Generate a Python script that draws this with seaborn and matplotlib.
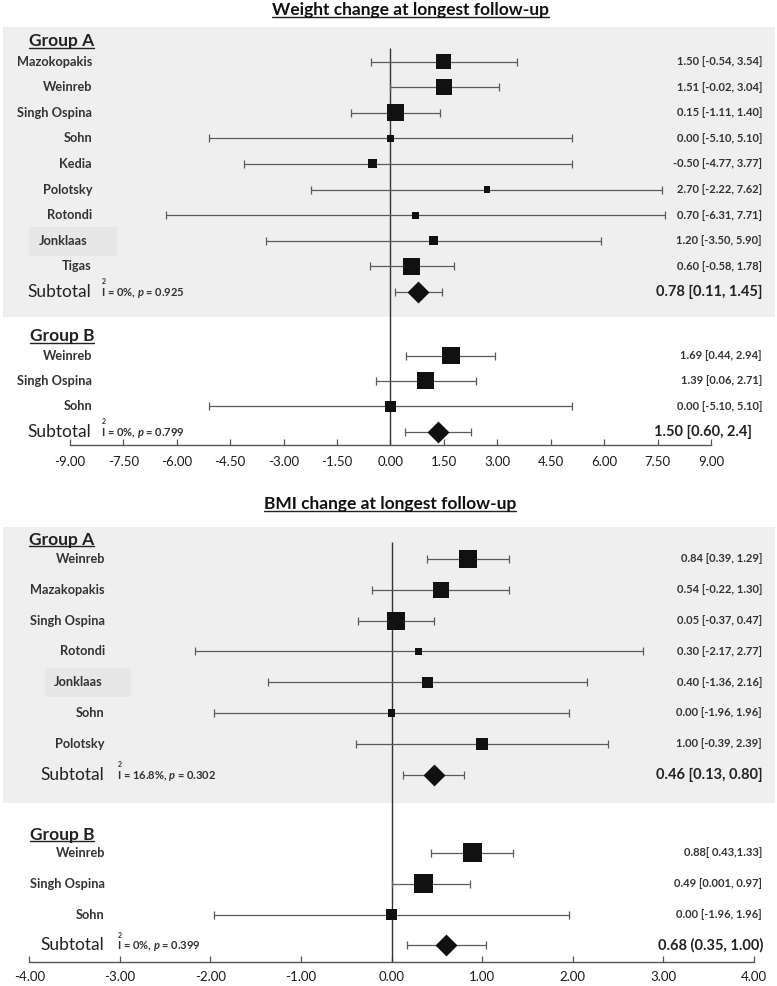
import numpy as np
import pandas as pd
import matplotlib.pyplot as plt
import matplotlib.transforms as mtransforms
from matplotlib.patches import Rectangle
from matplotlib.lines import Line2D
from matplotlib.ticker import FormatStrFormatter
import seaborn as sns

sns.set_theme(style="white")
plt.rcParams['font.family'] = ['Lato', 'DejaVu Sans']
plt.rcParams['mathtext.fontset'] = 'custom'
plt.rcParams['mathtext.rm'] = 'Lato:bold'
plt.rcParams['mathtext.it'] = 'Lato:bold:italic'

# ---------------- weight change (kg) ----------------
wt_a_names = ["Mazokopakis", "Weinreb", "Singh Ospina", "Sohn", "Kedia",
              "Polotsky", "Rotondi", "Jonklaas", "Tigas"]
wt_a_est = [1.50, 1.51, 0.15, 0.00, -0.50, 2.70, 0.70, 1.20, 0.60]
wt_a_lo = [-0.54, -0.02, -1.11, -5.10, -4.10, -2.22, -6.31, -3.50, -0.58]
wt_a_hi = [3.54, 3.04, 1.40, 5.10, 5.10, 7.62, 7.71, 5.90, 1.78]
wt_a_weight = [16.6, 18.9, 21.3, 3.6, 6.0, 2.7, 3.6, 6.0, 21.3]
wt_a_labels = ["1.50 [-0.54, 3.54]", "1.51 [-0.02, 3.04]", "0.15 [-1.11, 1.40]",
               "0.00 [-5.10, 5.10]", "-0.50 [-4.77, 3.77]", "2.70 [-2.22, 7.62]",
               "0.70 [-6.31, 7.71]", "1.20 [-3.50, 5.90]", "0.60 [-0.58, 1.78]"]
wt_a_sub = [0.12, 0.78, 1.44]
wt_a_sub_label = "0.78 [0.11, 1.45]"
wt_a_het = ("0%", "0.925")

wt_b_names = ["Weinreb", "Singh Ospina", "Sohn"]
wt_b_est = [1.69, 0.97, 0.00]
wt_b_lo = [0.44, -0.42, -5.10]
wt_b_hi = [2.94, 2.40, 5.10]
wt_b_weight = [23.9, 21.3, 8.9]
wt_b_labels = ["1.69 [0.44, 2.94]", "1.39 [0.06, 2.71]", "0.00 [-5.10, 5.10]"]
wt_b_sub = [0.40, 1.33, 2.25]
wt_b_sub_label = "1.50 [0.60, 2.4]"
wt_b_het = ("0%", "0.799")

wt_ticks = np.arange(-9, 9.01, 1.5)

# ---------------- BMI change ----------------
bmi_a_names = ["Weinreb", "Mazakopakis", "Singh Ospina", "Rotondi", "Jonklaas",
               "Sohn", "Polotsky"]
bmi_a_est = [0.84, 0.54, 0.05, 0.30, 0.40, 0.00, 1.00]
bmi_a_lo = [0.39, -0.22, -0.37, -2.17, -1.36, -1.96, -0.39]
bmi_a_hi = [1.29, 1.30, 0.47, 2.77, 2.16, 1.96, 2.39]
bmi_a_weight = [25.6, 20.2, 25.6, 3.9, 9.6, 3.9, 11.4]
bmi_a_labels = ["0.84 [0.39, 1.29]", "0.54 [-0.22, 1.30]", "0.05 [-0.37, 0.47]",
                "0.30 [-2.17, 2.77]", "0.40 [-1.36, 2.16]", "0.00 [-1.96, 1.96]",
                "1.00 [-0.39, 2.39]"]
bmi_a_sub = [0.13, 0.47, 0.80]
bmi_a_sub_label = "0.46 [0.13, 0.80]"
bmi_a_het = ("16.8%", "0.302")

bmi_b_names = ["Weinreb", "Singh Ospina", "Sohn"]
bmi_b_est = [0.89, 0.35, 0.00]
bmi_b_lo = [0.43, 0.00, -1.96]
bmi_b_hi = [1.34, 0.86, 1.96]
bmi_b_weight = [28.5, 28.5, 9.6]
bmi_b_labels = ["0.88[ 0.43,1.33]", "0.49 [0.001, 0.97]", "0.00 [-1.96, 1.96]"]
bmi_b_sub = [0.17, 0.60, 1.04]
bmi_b_sub_label = "0.68 (0.35, 1.00)"
bmi_b_het = ("0%", "0.399")

bmi_ticks = np.arange(-4, 4.01, 1.0)

W, H = 777, 986
fig = plt.figure(figsize=(W / 100, H / 100), dpi=100)

TXT = '#333333'
DARK = '#1a1a1a'
BOX = '#efefef'


def make_axes(top_px, axis_px, ticks, left_px, right_px):
    ax = fig.add_axes([0, (H - axis_px) / H, 1, (axis_px - top_px) / H])
    a = (right_px - left_px) / (ticks[-1] - ticks[0])
    ax.set_xlim(ticks[0] - left_px / a, ticks[-1] + (W - right_px) / a)
    ax.set_ylim(axis_px, top_px)
    return ax


def finish_axes(ax, ticks, axis_px, zero_top, pad):
    ax.set_xlim(ax.get_xlim())
    ax.set_ylim(ax.get_ylim())
    ax.patch.set_alpha(0)
    for s in ['left', 'right', 'top']:
        ax.spines[s].set_visible(False)
    ax.spines['bottom'].set_bounds(ticks[0], ticks[-1])
    ax.spines['bottom'].set_color('#555555')
    ax.spines['bottom'].set_linewidth(1.0)
    ax.set_xticks(ticks)
    ax.xaxis.set_major_formatter(FormatStrFormatter('%.2f'))
    ax.tick_params(axis='x', bottom=True, direction='in', length=4, width=0.9,
                   color='#555555', labelsize=9.5, labelcolor=DARK, pad=pad)
    ax.set_yticks([])
    ax.set_xlabel('')
    ax.set_ylabel('')
    ax.vlines(0, zero_top, axis_px, color='#333333', lw=1.0, zorder=1)


def draw_group(ax, names, est, lo, hi, weight, labels, sub, sub_label, het,
               first_px, step, k, name_x, het_x, header, header_px, sub_x=763,
               jonk=None):
    tr = mtransforms.blended_transform_factory(fig.transFigure, ax.transData)
    n = len(names)
    ys = first_px + step * np.arange(n)
    sub_y = first_px + step * n
    est = np.array(est)
    lo = np.array(lo)
    hi = np.array(hi)
    ax.errorbar(est, ys, xerr=[est - lo, hi - est], fmt='none', ecolor='#5a5a5a',
                elinewidth=0.9, capsize=2.8, capthick=0.9, zorder=2)
    df = pd.DataFrame({'est': est, 'y': ys, 'weight': weight})
    sns.scatterplot(data=df, x='est', y='y', size='weight', sizes=(0, k * 100),
                    size_norm=(0, 100), marker='s', color='#111111', linewidth=0,
                    legend=False, ax=ax, zorder=3)
    ax.errorbar([sub[1]], [sub_y], xerr=[[sub[1] - sub[0]], [sub[2] - sub[1]]],
                fmt='none', ecolor='#5a5a5a', elinewidth=0.9, capsize=2.8,
                capthick=0.9, zorder=2)
    sns.scatterplot(x=[sub[1]], y=[sub_y], marker='D', s=125, color='#111111',
                    linewidth=0, legend=False, ax=ax, zorder=3)
    hdr = ax.text(94 / W, header_px, header, transform=tr, ha='right',
                  va='center', fontsize=12.5, fontweight='bold', color='#222222')
    for i, (nm, lab) in enumerate(zip(names, labels)):
        nx = name_x
        if jonk is not None and nm == 'Jonklaas':
            x0, x1, dx = jonk
            ax.add_patch(Rectangle((x0 / W, ys[i] - 14), (x1 - x0) / W, 29,
                                   transform=tr, color='#e7e7e7', lw=0, zorder=0.5))
            nx = name_x - dx
        ax.text(nx / W, ys[i], nm, transform=tr, ha='right', va='center',
                fontsize=9.2, fontweight='bold', color=TXT)
        ax.text(762 / W, ys[i], lab, transform=tr, ha='right', va='center',
                fontsize=8, fontweight='bold', color=TXT)
    ax.text((name_x - 1) / W, sub_y, 'Subtotal', transform=tr, ha='right',
            va='center', fontsize=12.5, color='#222222')
    ax.text(het_x / W, sub_y + 1, f"I = {het[0]}, $p$ = {het[1]}", transform=tr,
            ha='left', va='center', fontsize=8, fontweight='bold', color=TXT)
    ax.text((het_x + 1) / W, sub_y - 10, '2', transform=tr, ha='left',
            va='center', fontsize=5, fontweight='bold', color=TXT)
    ax.text(sub_x / W, sub_y, sub_label, transform=tr, ha='right', va='center',
            fontsize=10.5, fontweight='bold', color='#222222')
    return hdr


# ---------------- top panel ----------------
ax1 = make_axes(0, 445, wt_ticks, 70, 711)
tr1 = mtransforms.blended_transform_factory(fig.transFigure, ax1.transData)
ax1.add_patch(Rectangle((3 / W, 27), 772 / W, 290, transform=tr1, color=BOX,
                        lw=0, zorder=0))
h1 = draw_group(ax1, wt_a_names, wt_a_est, wt_a_lo, wt_a_hi, wt_a_weight,
                wt_a_labels, wt_a_sub, wt_a_sub_label, wt_a_het,
                61.7, 25.56, 7.0, 92, 101, 'Group A', 41, jonk=(29, 117, 4))
h2 = draw_group(ax1, wt_b_names, wt_b_est, wt_b_lo, wt_b_hi, wt_b_weight,
                wt_b_labels, wt_b_sub, wt_b_sub_label, wt_b_het,
                355.5, 25.4, 7.0, 92, 101, 'Group B', 336, sub_x=752)
finish_axes(ax1, wt_ticks, 445, 48, 8)
t1 = fig.text(410 / W, 1 - 10.5 / H, 'Weight change at longest follow-up',
              ha='center', va='center', fontsize=12.5, fontweight='bold',
              color='#111111')

# ---------------- bottom panel ----------------
ax2 = make_axes(480, 961.7, bmi_ticks, 29.3, 754)
tr2 = mtransforms.blended_transform_factory(fig.transFigure, ax2.transData)
ax2.add_patch(Rectangle((3 / W, 527), 772 / W, 276, transform=tr2, color=BOX,
                        lw=0, zorder=0))
h3 = draw_group(ax2, bmi_a_names, bmi_a_est, bmi_a_lo, bmi_a_hi, bmi_a_weight,
                bmi_a_labels, bmi_a_sub, bmi_a_sub_label, bmi_a_het,
                559, 30.8, 6.6, 105, 117, 'Group A', 540, jonk=(45, 131, 2))
h4 = draw_group(ax2, bmi_b_names, bmi_b_est, bmi_b_lo, bmi_b_hi, bmi_b_weight,
                bmi_b_labels, bmi_b_sub, bmi_b_sub_label, bmi_b_het,
                852.8, 30.9, 6.6, 105, 117, 'Group B', 835)
finish_axes(ax2, bmi_ticks, 961.7, 542, 7)
t2 = fig.text(390 / W, 1 - 504 / H, 'BMI change at longest follow-up',
              ha='center', va='center', fontsize=12.5, fontweight='bold',
              color='#111111')

fig.canvas.draw()
for t in (t1, t2, h1, h2, h3, h4):
    bb = t.get_window_extent()
    y = (bb.y0 + 1.5) / H
    fig.add_artist(Line2D([bb.x0 / W, bb.x1 / W], [y, y], transform=fig.transFigure,
                          color='#222222', lw=1.0))

fig.savefig('out.png', dpi=100)
